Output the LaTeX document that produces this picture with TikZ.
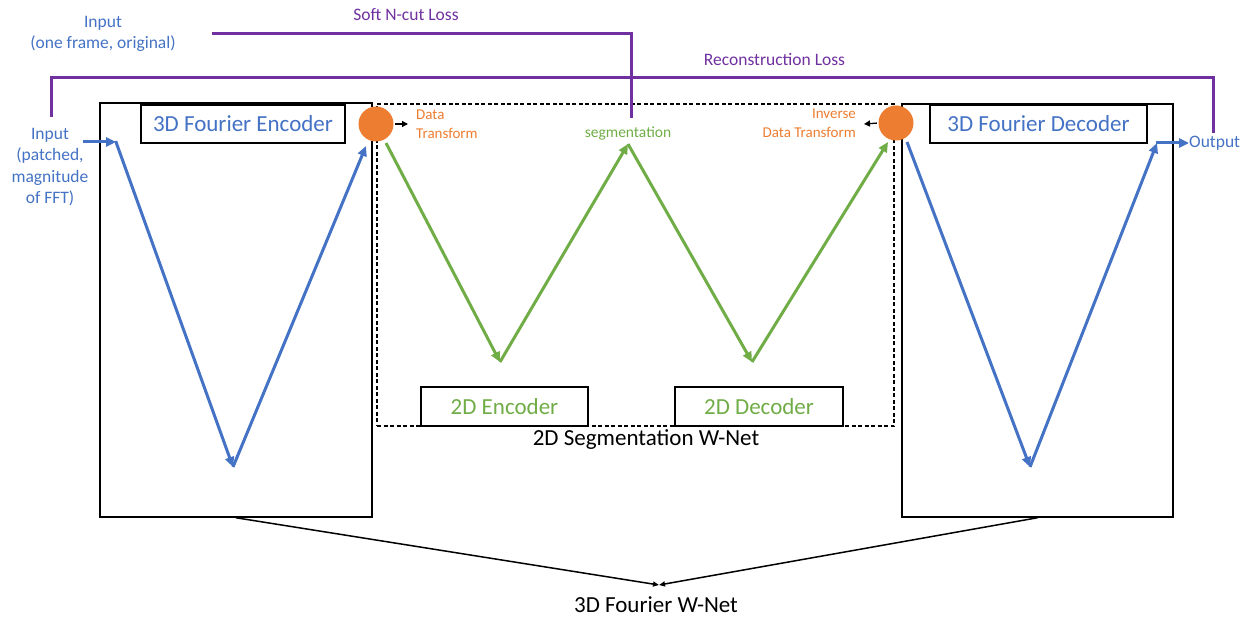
\documentclass[tikz,border=0pt]{standalone}
\usepackage{fontspec}
\setmainfont{Carlito}
\usetikzlibrary{arrows.meta}
\definecolor{wblue}{HTML}{4472C4}
\definecolor{wgreen}{HTML}{70AD47}
\definecolor{worange}{HTML}{ED7D31}
\definecolor{wpurple}{HTML}{7030A0}
\tikzset{
  frame/.style={draw=black, line width=1.5pt, inner sep=0pt, fill=none},
  labelbox/.style={draw=black, line width=1.5pt, inner sep=0pt, fill=white,
    font=\fontsize{23}{27}\selectfont},
  dashbox/.style={draw=black, line width=1.2pt, dash pattern=on 4pt off 2.5pt, inner sep=0pt},
  dot/.style={circle, fill=worange, inner sep=0pt, minimum size=35pt},
  blueflow/.style={draw=wblue, line width=3pt, -{Triangle[length=10pt,width=9pt]}},
  greenflow/.style={draw=wgreen, line width=3pt, -{Triangle[length=10pt,width=9pt]}},
  loss/.style={draw=wpurple, line width=3pt},
  tinyarrow/.style={draw=black, line width=1.3pt, -{Triangle[length=6pt,width=6pt]}},
  joinarrow/.style={draw=black, line width=1.5pt, -{Triangle[length=6pt,width=5pt]}},
  bigtxt/.style={font=\fontsize{23}{27}\selectfont, inner sep=0pt},
  midtxt/.style={font=\fontsize{17.5}{21.5}\selectfont, inner sep=0pt, align=center},
  smalltxt/.style={font=\fontsize{15}{19}\selectfont, inner sep=0pt},
}
\begin{document}
\begin{tikzpicture}[x=1pt,y=-1pt]
\useasboundingbox (0,0) rectangle (1252,617);

% outer 3D Fourier blocks and the 2D W-Net frame
\node[frame, minimum width=272pt, minimum height=414pt] (encbox) at (236,310) {};
\node[frame, minimum width=271pt, minimum height=413pt] (decbox) at (1037.5,310.5) {};
\node[dashbox, minimum width=517pt, minimum height=322pt] (wnet2d) at (635.5,265) {};

% block titles
\node[labelbox, text=wblue, minimum width=204pt, minimum height=38pt] (enctitle) at (243,124) {3D Fourier Encoder};
\node[labelbox, text=wblue, minimum width=217pt, minimum height=38pt] (dectitle) at (1038.5,124) {3D Fourier Decoder};
\node[labelbox, text=wgreen, minimum width=167pt, minimum height=39pt] (enc2d) at (504.5,406.5) {2D Encoder};
\node[labelbox, text=wgreen, minimum width=168pt, minimum height=39pt] (dec2d) at (759,406.5) {2D Decoder};

% data transform points
\node[dot] (dt) at (376,124) {};
\node[dot] (idt) at (896,123) {};
\coordinate (dtout) at (408,124);
\coordinate (idtout) at (864,124);
\draw[tinyarrow, shorten <=1.5pt] (dt.east) -- (dtout);
\draw[tinyarrow, shorten <=1.5pt] (idt.west) -- (idtout);
\node[smalltxt, text=worange, anchor=west, align=left] (dtlabel) at (416,124.5) {Data\\Transform};
\node[smalltxt, text=worange, anchor=east, align=right] (idtlabel) at (856,123.5) {Inverse\\Data Transform};

% input / output labels
\node[midtxt, text=wblue] (inpatch) at (50,167) {Input\\(patched,\\magnitude\\of FFT)};
\node[midtxt, text=wblue] (inframe) at (103,34) {Input\\(one frame, original)};
\node[midtxt, text=wblue, anchor=west] (output) at (1189,143) {Output};
\node[smalltxt, text=wgreen, font=\fontsize{15.5}{19}\selectfont] (seg) at (628,133) {segmentation};

% encoder V
\coordinate (inpend) at (83,142);
\coordinate (e0) at (116,142);
\coordinate (e1) at (233,467);
\coordinate (e2) at (366,146);
\draw[blueflow] (inpend) -- (e0);
\draw[blueflow, shorten <=-1pt] (e0) -- (e1);
\draw[blueflow] (e1) -- (e2);

% 2D W-Net
\coordinate (g0) at (386,143);
\coordinate (g1) at (500,362);
\coordinate (g2) at (628,144);
\coordinate (g3) at (752,362);
\coordinate (g4) at (888,142);
\draw[greenflow] (g0) -- (g1);
\draw[greenflow] (g1) -- (g2);
\draw[greenflow] (g2) -- (g3);
\draw[greenflow] (g3) -- (g4);

% decoder V
\coordinate (d0) at (907,142);
\coordinate (d1) at (1030,467);
\coordinate (d2) at (1157,143);
\draw[blueflow] (d0) -- (d1);
\draw[blueflow] (d1) -- (d2);
\draw[blueflow, shorten <=-1.5pt] (d2) -- (output.west);

% loss paths
\coordinate (rl0) at (51,117);
\coordinate (rltop) at (1213,78);
\coordinate (rl1) at (1213,133);
\coordinate (sl0) at (212,34);
\coordinate (sl1) at (631,118);
\draw[loss] (rl0) |- (rltop) -- (rl1);
\draw[loss] (sl0) -| (sl1);
\node[midtxt, text=wpurple] (reclabel) at (774.5,60) {Reconstruction Loss};
\node[midtxt, text=wpurple] (ncutlabel) at (406,15) {Soft N-cut Loss};

% captions
\node[bigtxt] (cap2d) at (646,440) {2D Segmentation W-Net};
\coordinate (join) at (659,585);
\draw[joinarrow] (encbox.south) -- (join);
\draw[joinarrow] (decbox.south) -- (join);
\node[bigtxt] (cap3d) at (656,604.5) {3D Fourier W-Net};
\end{tikzpicture}
\end{document}
